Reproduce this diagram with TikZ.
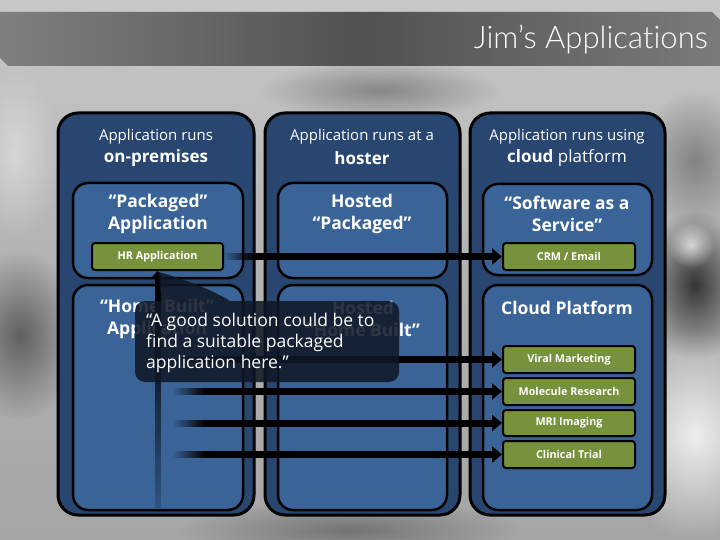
\documentclass[tikz,border=0pt]{standalone}
\usepackage{fontspec}
\setmainfont{Open Sans}
\IfFontExistsTF{Lato Light}{\newfontfamily\titlefont[Ligatures=CommonOff]{Lato Light}}{\newfontfamily\titlefont{Lato}}
\usetikzlibrary{arrows.meta,fadings}

\definecolor{outerblue}{RGB}{40,70,112}
\definecolor{innerblue}{RGB}{58,100,152}
\definecolor{greenbox}{RGB}{118,146,60}
\definecolor{calloutbg}{RGB}{16,24,38}
\definecolor{bgmid}{RGB}{178,178,178}
\definecolor{bgtop}{RGB}{200,200,200}
\definecolor{bgbot}{RGB}{165,165,165}

\tikzfading[name=fadeeast, left color=transparent!100, right color=transparent!0]
\tikzfading[name=fadedown, top color=transparent!0, bottom color=transparent!85]
\tikzfading[name=softblob, inner color=transparent!0, outer color=transparent!100]

\begin{document}
\begin{tikzpicture}[x=1pt,y=-1pt,
  outerpanel/.style={draw=black, line width=3pt, fill=outerblue, rounded corners=20pt, minimum width=195pt, minimum height=402pt, inner sep=0pt},
  innerbox/.style={draw=black, line width=2.5pt, fill=innerblue, rounded corners=15pt, minimum width=169pt, inner sep=0pt},
  gbox/.style={draw=black, line width=2pt, fill=greenbox, rounded corners=3pt, text=white, font=\bfseries\fontsize{10.8}{12}\selectfont, minimum width=131pt, minimum height=27pt, inner sep=0pt},
  hdr/.style={text=white, font=\fontsize{15}{17}\selectfont, inner sep=0pt},
  hdrbold/.style={text=white, font=\bfseries\fontsize{17}{19}\selectfont, inner sep=0pt},
  ttl/.style={text=white, font=\bfseries\fontsize{17.5}{22}\selectfont, align=center, inner sep=0pt},
  conn/.style={line width=7pt, black, -{Triangle[length=10pt,width=16pt]}},
  fadebar/.style={fill=black, path fading=fadeeast},
  blob/.style={path fading=softblob}]
\useasboundingbox (0,0) rectangle (720,540);

% background photo approximation
\shade[top color=bgtop, bottom color=bgbot, middle color=bgmid] (0,0) rectangle (720,540);
\fill[blob, black, opacity=0.45] (-40,250) rectangle (80,420);
\fill[blob, black, opacity=0.7] (640,210) rectangle (750,360);
\fill[blob, white, opacity=0.8] (610,330) rectangle (780,540);
\fill[blob, black, opacity=0.3] (260,60) rectangle (500,120);
\fill[blob, white, opacity=0.7] (668,222) rectangle (714,268);
\fill[blob, black, opacity=0.3] (640,90) rectangle (750,230);
\fill[blob, white, opacity=0.4] (-30,70) rectangle (60,240);
\fill[blob, black, opacity=0.3] (180,500) rectangle (520,560);

% title banner
\shade[left color=black!50, right color=black!52, middle color=black!68] (0,12) -- (712,12) -- (720,20) -- (720,66) -- (8,66) -- (0,58) -- cycle;
\node[anchor=east, text=white, inner sep=0pt, font=\titlefont\fontsize{31}{36}\selectfont] (title) at (708,40) {Jim’s Applications};

% outer panels
\node[outerpanel, minimum width=196pt] (p1) at (156,314) {};
\node[outerpanel] (p2) at (362.5,314) {};
\node[outerpanel] (p3) at (567.5,314) {};

% inner boxes
\node[innerbox, minimum width=170pt, minimum height=95pt] (p1top) at (158,230.5) {};
\node[innerbox, minimum height=95pt] (p2top) at (362.5,230.5) {};
\node[innerbox, minimum height=91pt] (p3top) at (567.5,229.5) {};
\node[innerbox, minimum width=170pt, minimum height=225pt] (p1bot) at (158,397.5) {};
\node[innerbox, minimum height=225pt] (p2bot) at (362.5,397.5) {};
\node[innerbox, minimum height=225pt] (p3bot) at (567.5,397.5) {};

% headers
\node[hdr] (h1a) at (156,137) {Application runs};
\node[hdrbold] (h1b) at (156,158) {on-premises};
\node[hdr] (h2a) at (362,137) {Application runs at a};
\node[hdrbold] (h2b) at (362,158) {hoster};
\node[hdr] (h3a) at (567,137) {Application runs using};
\node[hdr, font=\fontsize{17}{19}\selectfont] (h3b) at (567,158) {\textbf{cloud} platform};

% inner titles
\node[ttl] (t1) at (158,213.5) {“Packaged”\\Application};
\node[ttl] (t2) at (362,213.5) {Hosted\\“Packaged”};
\node[ttl] (t3) at (567,213.5) {“Software as a\\Service”};
\node[ttl] (b1) at (157,319) {“Home Built”\\Application};
\node[ttl] (b2) at (363,319) {Hosted\\“Home Built”};
\node[ttl] (b3) at (567,308) {Cloud Platform};

% green boxes
\node[gbox] (hr) at (157.5,256.5) {HR Application};
\node[gbox, minimum width=132pt] (crm) at (569,256.5) {CRM / Email};
\node[gbox, minimum width=132pt] (viral) at (569,359.5) {Viral Marketing};
\node[gbox, minimum width=132pt] (mol) at (569,391.5) {Molecule Research};
\node[gbox, minimum width=132pt, minimum height=26pt] (mri) at (569,423) {MRI Imaging};
\node[gbox, minimum width=132pt] (clin) at (569,454.5) {Clinical Trial};

% connectors
\coordinate (s0) at (255,256.5);
\fill[fadebar] (223,253) rectangle (255,260);
\draw[conn] (s0) -- (crm.west);
\foreach \n/\yy in {viral/359.5,mol/391.5,mri/423,clin/454.5}{
  \coordinate (s-\n) at (205,\yy);
  \fill[fadebar] (172,\yy-3.5) rectangle (205,\yy+3.5);
  \draw[conn] (s-\n) -- (\n.west);
}
\coordinate (vb) at (157.5,298);
\fill[black, path fading=fadedown] (154.5,298) rectangle (160.5,508);
\draw[line width=6pt, black, -{Triangle[length=8pt,width=14pt]}] (vb) -- (hr.south);

% callout
\fill[calloutbg, opacity=0.87] (159,272) .. controls (190,281) and (214,291) .. (230,301) -- (161,301) -- cycle;
\node[fill=calloutbg, opacity=0.87, rounded corners=10pt, minimum width=264pt, minimum height=81pt, inner sep=0pt] (callout) at (267,341.5) {};
\node[anchor=west, text=white, align=left, inner sep=0pt, font=\fontsize{17.5}{21}\selectfont] (ctext) at (146,343) {“A good solution could be to\\find a suitable packaged\\application here.”};
\end{tikzpicture}
\end{document}
